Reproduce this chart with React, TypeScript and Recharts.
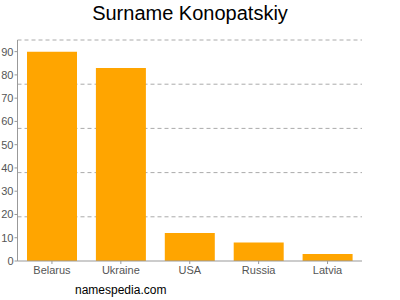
import { Bar, BarChart, CartesianGrid, XAxis, YAxis } from "recharts";

const countries = ["Belarus", "Ukraine", "USA", "Russia", "Latvia"];
const counts = [90, 83, 12, 8, 3];
const valueTicks = [0, 10, 20, 30, 40, 50, 60, 70, 80, 90];
const gridTicks = [19, 38, 57, 76, 95];
const Y_MAX = 95;

const data = countries.map((country, i) => ({ country, count: counts[i] }));

const FONT = "Liberation Sans, Arial, sans-serif";
const AXIS_STROKE = "#999";
const TICK_STYLE = { fill: "#555", fontSize: 11, fontFamily: FONT };

export default function App() {
	return (
		<div style={{ position: "absolute", left: 0, top: 0, width: 400, height: 300, background: "#fff" }}>
			<div
				style={{
					position: "absolute",
					top: 2,
					left: 0,
					width: 380,
					textAlign: "center",
					fontFamily: FONT,
					fontSize: 20,
					color: "#000",
				}}
			>
				Surname Konopatskiy
			</div>
			<BarChart
				width={400}
				height={300}
				data={data}
				margin={{ top: 40, right: 38, bottom: 9, left: 0 }}
				barCategoryGap={9.5}
			>
				{/* grid lines sit on 19-unit steps, not on the labelled ticks */}
				<CartesianGrid
					vertical={false}
					stroke="#aaa"
					strokeDasharray="4 3"
					horizontalCoordinatesGenerator={({ offset }: any) =>
						gridTicks.map((t) => offset.top + offset.height * (1 - t / Y_MAX))
					}
				/>
				<XAxis
					dataKey="country"
					stroke={AXIS_STROKE}
					tick={TICK_STYLE}
					tickSize={3}
					tickMargin={2}
					height={30}
				/>
				<YAxis
					domain={[0, Y_MAX]}
					ticks={valueTicks}
					stroke={AXIS_STROKE}
					tick={TICK_STYLE}
					tickSize={3}
					tickMargin={1}
					width={17.5}
					interval={0}
				/>
				<Bar dataKey="count" fill="#ffa500" isAnimationActive={false} />
			</BarChart>
			<div
				style={{
					position: "absolute",
					top: 283,
					left: 75,
					fontFamily: FONT,
					fontSize: 12,
					color: "#000",
				}}
			>
				namespedia.com
			</div>
		</div>
	);
}
